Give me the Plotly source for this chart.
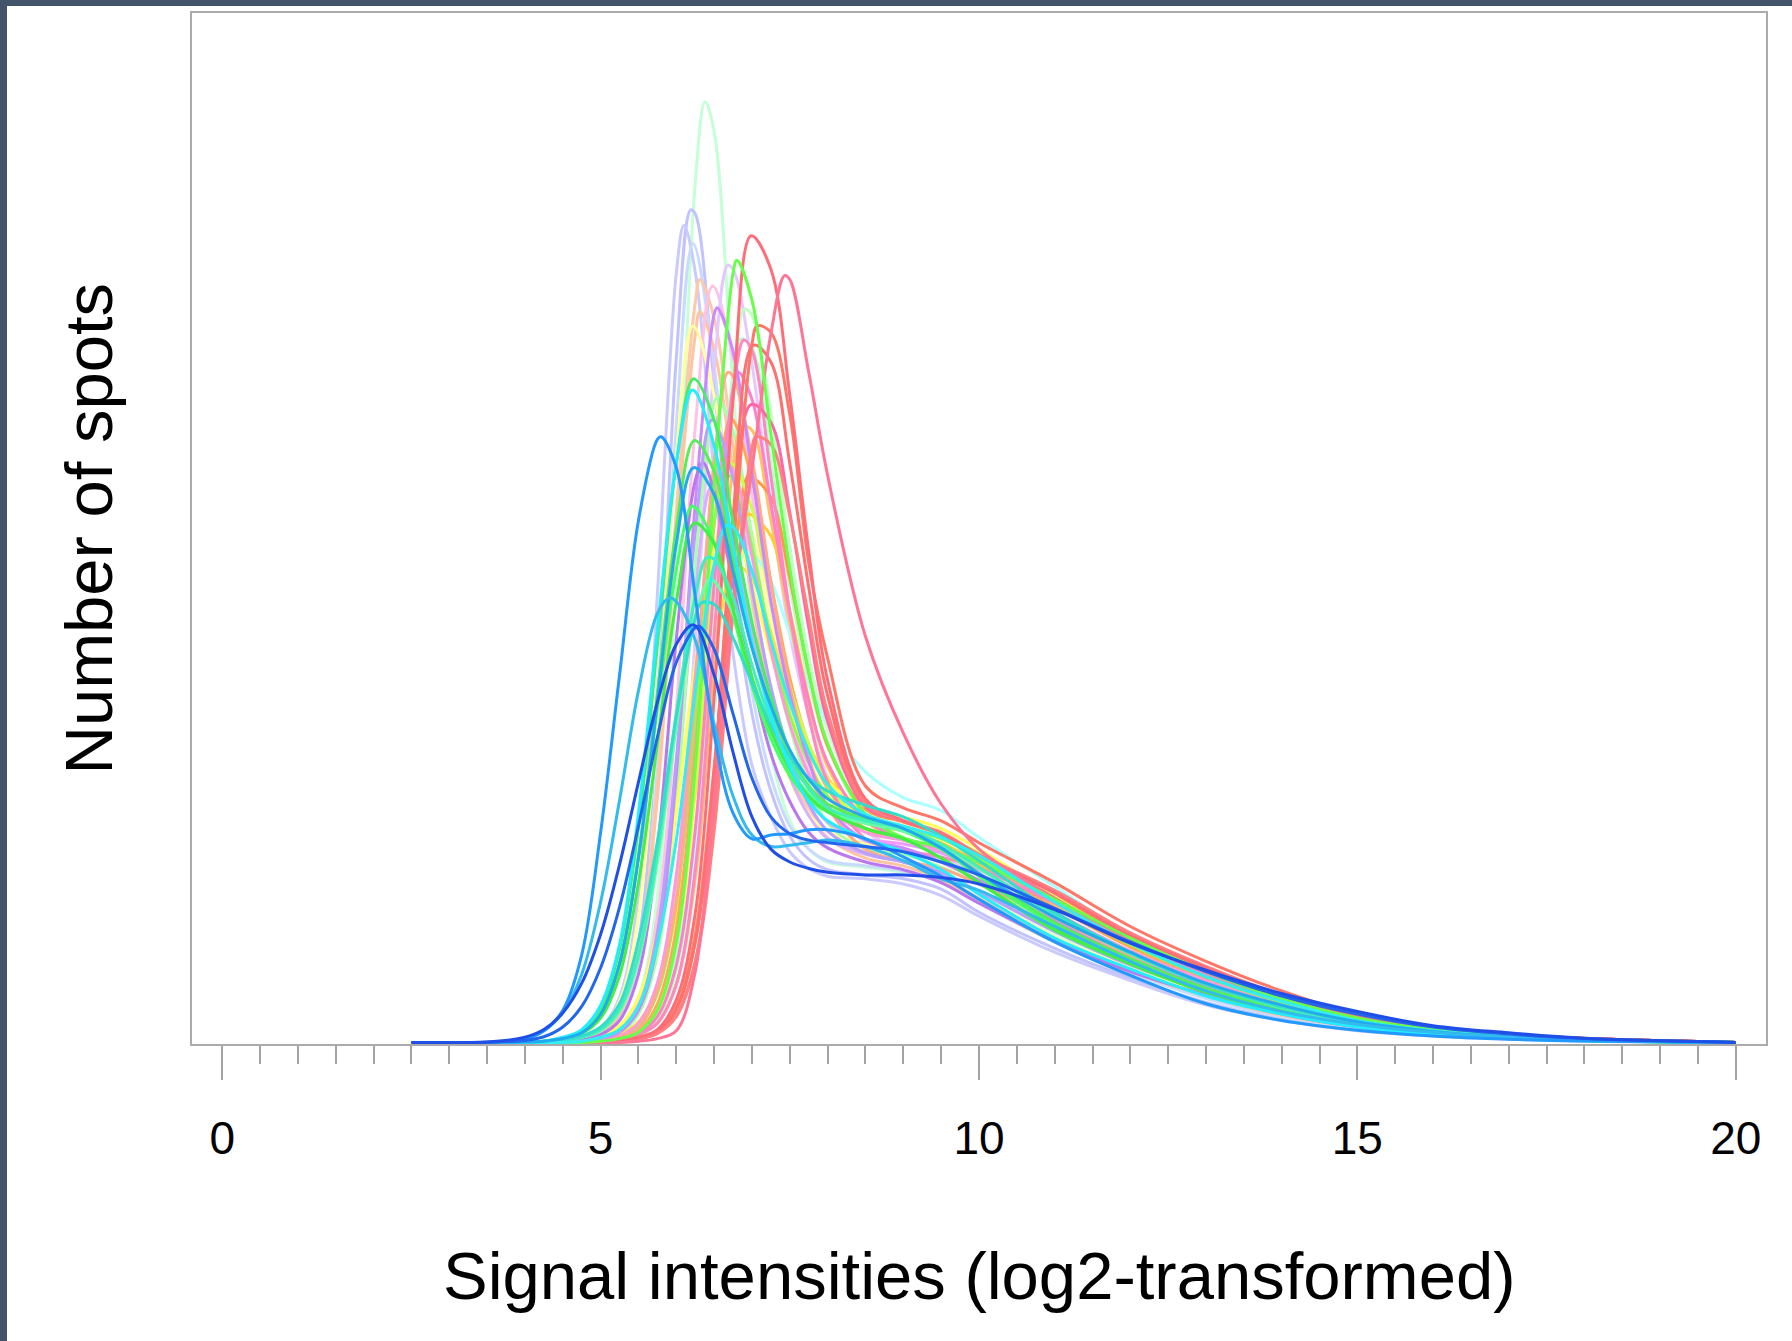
import plotly.graph_objects as go

# Shared sampling positions (log2 intensity) for every density curve
GRID_X = [2.5, 3.5, 4.0, 4.25, 4.5,
          4.75, 5.0, 5.25, 5.5, 5.75, 6.0, 6.25, 6.5, 6.75, 7.0, 7.25, 7.5, 7.75, 8.0,
          8.5, 9.0, 9.5, 10.0, 11.0, 12.0, 13.0, 14.0, 15.0, 16.0, 17.0, 18.0, 20.0]

# Density of spots per array, sampled on GRID_X
s01 = [0, 0, 0, 0, 0,
       .001, .004, .011, .035, .113, .362, .667, .707, .508, .331, .225, .172, .150, .140,
       .136, .132, .125, .112, .083, .057, .036, .021, .012, .006, .003, .0015, 0]
s02 = [0, 0, 0, 0, .001,
       .003, .007, .024, .078, .254, .531, .643, .511, .356, .255, .195, .160, .142, .134,
       .130, .127, .119, .101, .073, .050, .031, .018, .010, .005, .0026, .0012, 0]
s03 = [0, 0, 0, 0, .0015,
       .004, .011, .035, .114, .348, .597, .598, .441, .302, .215, .175, .148, .135, .129,
       .127, .123, .114, .098, .070, .048, .029, .017, .009, .005, .0025, .001, 0]
s04 = [0, 0, 0, 0, .001,
       .002, .006, .020, .063, .214, .478, .618, .525, .378, .272, .206, .168, .150, .141,
       .137, .133, .124, .108, .078, .054, .034, .020, .011, .006, .003, .0013, 0]
s05 = [0, 0, 0, 0, 0,
       0, .0003, .0015, .004, .010, .033, .100, .268, .499, .626, .600, .502, .381, .281,
       .189, .172, .162, .145, .116, .083, .058, .036, .020, .011, .006, .003, 0]
s06 = [0, 0, 0, 0, 0,
       0, 0, 0, .001, .003, .009, .055, .189, .340, .445, .550, .592, .520, .440,
       .315, .240, .185, .150, .112, .080, .055, .033, .019, .010, .005, .0025, 0]
s07 = [0, 0, 0, 0, 0,
       0, .001, .003, .008, .025, .078, .213, .433, .597, .576, .472, .368, .288, .232,
       .177, .159, .151, .140, .111, .081, .055, .034, .019, .010, .0052, .0026, 0]
s08 = [0, 0, 0, 0, 0,
       0, .001, .005, .013, .046, .127, .313, .523, .600, .526, .414, .317, .253, .206,
       .164, .150, .143, .130, .098, .069, .046, .029, .016, .0086, .0045, .0022, 0]
s09 = [0, 0, 0, 0, .001,
       .003, .008, .023, .070, .199, .412, .574, .562, .462, .358, .273, .220, .182, .164,
       .147, .140, .129, .112, .080, .056, .037, .022, .012, .0065, .0033, .0016, 0]
s10 = [0, 0, 0, 0, 0,
       .001, .004, .010, .033, .098, .259, .477, .587, .531, .425, .328, .259, .210, .181,
       .156, .150, .140, .125, .091, .063, .043, .026, .014, .0076, .0038, .0019, 0]
s11 = [0, 0, 0, 0, 0,
       .001, .003, .008, .025, .076, .208, .418, .565, .536, .442, .342, .270, .218, .183,
       .157, .151, .140, .126, .094, .065, .044, .027, .014, .008, .004, .002, 0]
s12 = [0, 0, 0, 0, .001,
       .003, .007, .022, .067, .190, .394, .549, .538, .443, .344, .264, .212, .177, .159,
       .143, .137, .126, .109, .078, .055, .036, .021, .012, .0063, .0032, .0015, 0]
s13 = [0, 0, 0, 0, 0,
       0, 0, .002, .006, .015, .046, .135, .320, .514, .564, .488, .385, .300, .243,
       .180, .158, .153, .142, .112, .080, .055, .034, .019, .010, .0055, .0028, 0]
s14 = [0, 0, 0, 0, 0,
       0, 0, .0005, .003, .007, .021, .063, .176, .380, .542, .551, .487, .372, .298,
       .199, .182, .172, .155, .124, .090, .063, .040, .022, .012, .0065, .0033, 0]
s15 = [0, 0, 0, 0, 0,
       0, 0, .002, .006, .018, .056, .158, .346, .519, .539, .449, .354, .280, .229,
       .176, .158, .153, .141, .110, .078, .054, .033, .018, .010, .0052, .0026, 0]
s16 = [0, 0, 0, 0, 0,
       0, 0, .002, .006, .015, .045, .134, .316, .502, .537, .439, .334, .253, .202,
       .158, .149, .144, .135, .108, .077, .053, .033, .018, .0097, .005, .0025, 0]
s17 = [0, 0, 0, 0, 0,
       0, 0, .001, .003, .008, .026, .078, .208, .408, .539, .528, .449, .353, .269,
       .186, .172, .162, .145, .117, .084, .058, .036, .020, .011, .006, .003, 0]
s18 = [0, 0, 0, 0, .001,
       .004, .010, .032, .098, .254, .456, .556, .502, .401, .312, .248, .204, .177, .164,
       .154, .148, .134, .116, .082, .058, .037, .022, .012, .0065, .0033, .0015, 0]
s19 = [0, 0, 0, 0, 0,
       0, .0005, .003, .007, .020, .060, .165, .355, .507, .499, .418, .333, .265, .217,
       .173, .158, .151, .140, .109, .077, .053, .033, .018, .010, .005, .0026, 0]
s20 = [0, 0, .0004, .001, .0035,
       .009, .026, .072, .167, .308, .449, .515, .483, .403, .326, .268, .226, .197, .181,
       .166, .158, .143, .124, .087, .061, .039, .023, .0125, .0068, .0033, .0015, 0]
s21 = [0, 0, .0004, .001, .004,
       .010, .029, .076, .178, .320, .450, .505, .463, .386, .310, .254, .214, .187, .172,
       .158, .148, .134, .115, .081, .057, .036, .022, .012, .0063, .003, .0013, 0]
s22 = [0, 0, 0, 0, 0,
       0, 0, .001, .003, .008, .026, .079, .211, .392, .495, .481, .411, .322, .249,
       .183, .172, .162, .145, .116, .083, .058, .036, .020, .011, .006, .003, 0]
s23 = [0, 0, 0, 0, 0,
       0, .001, .004, .009, .030, .088, .227, .401, .483, .437, .357, .283, .231, .197,
       .166, .157, .151, .138, .105, .074, .049, .031, .017, .009, .0047, .0023, 0]
s24 = [0, 0, 0, 0, 0,
       0, 0, .002, .006, .015, .045, .127, .289, .446, .475, .405, .326, .261, .217,
       .172, .157, .151, .142, .111, .079, .054, .034, .019, .010, .0054, .0027, 0]
s25 = [0, 0, 0, 0, 0,
       .001, .003, .009, .028, .086, .220, .396, .483, .438, .352, .276, .223, .185, .164,
       .147, .140, .132, .117, .086, .060, .040, .024, .0135, .0072, .0036, .0017, 0]
s26 = [0, 0, .003, .009, .025,
       .068, .163, .285, .405, .468, .446, .346, .239, .178, .158, .161, .162, .165, .165,
       .158, .144, .129, .111, .078, .052, .030, .017, .0095, .005, .0025, .0012, 0]
s27 = [0, 0, .0003, .001, .003,
       .008, .023, .061, .145, .272, .399, .467, .443, .377, .309, .260, .223, .199, .185,
       .173, .164, .151, .131, .093, .065, .042, .026, .014, .0072, .0035, .0016, 0]
s28 = [0, 0, .0003, .001, .003,
       .0075, .022, .061, .143, .265, .387, .446, .425, .366, .306, .261, .227, .204, .189,
       .175, .166, .151, .131, .097, .070, .046, .029, .016, .0085, .0042, .002, 0]
s29 = [0, 0, 0, 0, 0,
       0, .001, .003, .008, .025, .075, .196, .361, .449, .414, .342, .277, .232, .199,
       .172, .165, .159, .147, .112, .079, .052, .033, .018, .0097, .005, .0025, 0]
s30 = [0, 0, 0, 0, 0,
       0, .002, .004, .012, .038, .109, .254, .404, .437, .384, .312, .254, .217, .191,
       .170, .166, .158, .143, .108, .076, .051, .031, .017, .009, .0047, .0023, 0]
s31 = [0, 0, .0003, .001, .003,
       .008, .023, .061, .144, .259, .367, .415, .388, .332, .277, .236, .207, .189, .179,
       .172, .164, .150, .129, .091, .063, .040, .024, .013, .007, .0034, .0015, 0]
s32 = [0, 0, .0003, .001, .0025,
       .007, .019, .052, .124, .232, .342, .403, .387, .336, .283, .242, .212, .191, .179,
       .166, .158, .143, .124, .088, .061, .039, .024, .013, .0068, .0033, .0015, 0]
s33 = [0, 0, 0, 0, 0,
       .001, .004, .010, .028, .076, .157, .272, .371, .400, .366, .312, .264, .226, .200,
       .177, .168, .159, .145, .109, .077, .051, .032, .017, .009, .0047, .0023, 0]
s34 = [0, 0, 0, 0, .0005,
       .002, .005, .013, .035, .087, .180, .293, .383, .399, .355, .301, .255, .224, .202,
       .183, .175, .166, .150, .113, .079, .053, .033, .019, .0099, .005, .0026, 0]
s35 = [0, 0, 0, .0003, .001,
       .004, .010, .026, .068, .147, .255, .346, .375, .345, .293, .249, .218, .197, .182,
       .172, .166, .154, .136, .099, .069, .045, .027, .015, .008, .004, .002, 0]
s36 = [0, 0, .0001, .0004, .002,
       .005, .012, .030, .079, .156, .253, .329, .340, .314, .279, .246, .222, .205, .195,
       .184, .175, .160, .141, .101, .070, .045, .028, .016, .0085, .0042, .002, 0]
s37 = [0, .0002, .002, .009, .023,
       .053, .109, .188, .273, .333, .342, .312, .247, .191, .161, .152, .153, .155, .157,
       .152, .141, .127, .118, .090, .063, .040, .024, .014, .008, .004, .002, 0]
s38 = [0, .0004, .004, .010, .023,
       .046, .084, .138, .202, .264, .309, .324, .285, .225, .175, .150, .140, .135, .132,
       .130, .130, .128, .123, .103, .077, .056, .038, .024, .013, .0075, .0032, 0]
s39 = [0, .0001, .0015, .0044, .012,
       .028, .058, .105, .168, .237, .295, .322, .305, .255, .205, .175, .162, .157, .155,
       .152, .148, .140, .130, .104, .078, .055, .036, .022, .012, .0065, .003, 0]
s40 = [0, 0, 0, 0, 0,
       0, .001, .003, .007, .022, .065, .172, .327, .420, .396, .328, .266, .221, .191,
       .164, .157, .151, .139, .106, .075, .051, .031, .017, .0093, .0048, .0024, 0]
s41 = [0, 0, 0, 0, 0,
       0, .002, .005, .015, .046, .130, .284, .427, .444, .377, .304, .247, .208, .183,
       .163, .157, .149, .135, .101, .071, .048, .029, .016, .0088, .0045, .0022, 0]
s42 = [0, 0, 0, 0, 0,
       0, 0, .001, .003, .009, .028, .084, .214, .368, .439, .423, .360, .287, .230,
       .181, .171, .161, .144, .114, .082, .057, .035, .020, .011, .0058, .003, 0]
s43 = [0, 0, 0, 0, 0,
       .0003, .001, .004, .010, .027, .068, .148, .257, .350, .379, .358, .317, .277, .248,
       .210, .190, .180, .159, .121, .083, .056, .034, .019, .010, .005, .0025, 0]
s44 = [0, 0, 0, 0, 0,
       0, 0, .0005, .003, .007, .020, .061, .164, .333, .461, .464, .408, .330, .256,
       .185, .172, .163, .146, .118, .085, .059, .037, .021, .011, .006, .003, 0]
s45 = [0, 0, 0, 0, 0,
       .001, .003, .008, .025, .077, .195, .352, .429, .386, .316, .250, .206, .176, .158,
       .146, .140, .131, .117, .088, .062, .041, .025, .014, .0075, .0038, .0018, 0]
s46 = [0, 0, 0, 0, 0,
       .0006, .002, .006, .016, .042, .100, .193, .297, .370, .360, .318, .268, .231, .205,
       .177, .167, .159, .147, .113, .080, .054, .034, .019, .010, .0052, .0026, 0]
s47 = [0, 0, 0, 0, 0,
       .001, .003, .007, .022, .068, .186, .372, .497, .474, .393, .306, .245, .200, .170,
       .150, .146, .136, .123, .093, .065, .044, .027, .014, .008, .004, .002, 0]
s48 = [0, 0, 0, 0, 0,
       0, .001, .004, .011, .040, .110, .270, .451, .517, .453, .357, .276, .221, .183,
       .150, .141, .135, .123, .095, .067, .045, .028, .015, .008, .004, .002, 0]
s49 = [0, 0, 0, 0, .001,
       .002, .006, .017, .053, .151, .313, .436, .427, .355, .283, .224, .187, .163, .151,
       .140, .134, .124, .108, .079, .055, .037, .022, .012, .0065, .0033, .0016, 0]
s50 = [0, 0, 0, 0, 0,
       0, 0, .001, .003, .008, .026, .078, .199, .342, .409, .393, .335, .267, .214,
       .172, .164, .155, .139, .111, .080, .056, .035, .020, .011, .0058, .003, 0]
s51 = [0, 0, 0, .0003, .001,
       .004, .009, .024, .064, .140, .244, .331, .358, .333, .283, .241, .212, .193, .179,
       .170, .164, .153, .135, .099, .069, .045, .027, .015, .008, .004, .002, 0]
s52 = [0, 0, 0, 0, 0,
       0, .002, .004, .013, .039, .110, .240, .361, .376, .322, .262, .218, .189, .171,
       .158, .154, .147, .134, .101, .071, .048, .029, .016, .0088, .0045, .0022, 0]

SERIES = [s01, s02, s03, s04, s05, s06, s07, s08, s09, s10,
          s11, s12, s13, s14, s15, s16, s17, s18, s19, s20,
          s21, s22, s23, s24, s25, s26, s27, s28, s29, s30,
          s31, s32, s33, s34, s35, s36, s37, s38, s39, s40,
          s41, s42, s43, s44, s45, s46, s47, s48, s49, s50,
          s51, s52]

# Apex of each curve (position, height)
PEAK_X = [6.38, 6.19, 6.10, 6.22, 6.99, 7.43, 6.80, 6.68, 6.31, 6.48,
          6.54, 6.31, 6.90, 7.07, 6.85, 6.89, 7.02, 6.22, 6.82, 6.23,
          6.20, 6.99, 6.71, 6.87, 6.47, 5.80, 6.24, 6.23, 6.73, 6.64,
          6.20, 6.24, 6.66, 6.60, 6.40, 6.33, 5.91, 6.23, 6.30, 6.75,
          6.60, 6.95, 6.90, 7.05, 6.45, 6.78, 6.54, 6.68, 6.35, 6.95,
          6.45, 6.62]
PEAK_Y = [.730, .646, .634, .620, .626, .595, .607, .603, .592, .587,
          .570, .567, .569, .556, .546, .545, .541, .556, .520, .515,
          .506, .495, .484, .478, .483, .470, .467, .446, .449, .440,
          .416, .403, .401, .400, .376, .341, .345, .324, .323, .420,
          .450, .440, .380, .470, .430, .370, .500, .520, .450, .410,
          .360, .380]

COLORS = ["#c4ffd6", "#c2c2ff", "#cacaff", "#c8daff", "#ff6e78", "#ff7596", "#66ff4a", "#e4c8ff", "#ffc8a8", "#ffc2e4",
          "#cc88ff", "#ffc4a0", "#c2ffc2", "#ff7766", "#b2ffca", "#ff88c2", "#ff7070", "#ffffa0", "#ff80cc", "#44ee66",
          "#22eeff", "#ff66aa", "#ffaa55", "#ffc262", "#b8a0ff", "#2299ff", "#55ee55", "#22aaee", "#ccff44", "#88ff44",
          "#44ff66", "#44ee44", "#33eeee", "#ffff55", "#44eebb", "#33ddcc", "#33bbee", "#1f4fe6", "#2266ee", "#ffff99",
          "#ff99dd", "#ff9944", "#aaffff", "#ff8080", "#d8b0ff", "#ffdd44", "#a8ffa8", "#ffaa88", "#bb77ee", "#ffcc33",
          "#66ffaa", "#ee99ff"]

# Stacking order of the curves (first drawn at the back)
DRAW_ORDER = [1, 2, 3, 4, 9, 12, 10, 8, 13, 15, 18, 40, 45, 43, 47, 52,
              46, 24, 23, 42, 50, 34, 29, 30, 41, 48, 19, 16, 22, 11, 49, 25,
              14, 17, 44, 5, 6,
              7, 20, 27, 31, 51, 32, 35, 36, 33, 21,
              28, 37, 26, 39, 38]

X_TICKS = [0, 5, 10, 15, 20]
X_TITLE = "Signal intensities (log2-transformed)"
Y_TITLE = "Number of spots"

FONT = "Liberation Sans, Arial, Helvetica, sans-serif"


def curve_knots(values, px, py):
    assert len(values) == len(GRID_X)
    xs, ys = [], []
    for x, y in zip(GRID_X, values):
        if abs(x - px) < 0.04:
            continue
        xs.append(x)
        ys.append(y)
    pos = next(i for i, x in enumerate(xs) if x > px)
    xs.insert(pos, px)
    ys.insert(pos, py)
    return xs, ys


fig = go.Figure()
for k in DRAW_ORDER:
    i = k - 1
    xs, ys = curve_knots(SERIES[i], PEAK_X[i], PEAK_Y[i])
    fig.add_trace(go.Scatter(
        x=xs, y=ys, mode="lines",
        line=dict(color=COLORS[i], width=3.0, shape="spline", smoothing=1.0),
        hoverinfo="skip", showlegend=False,
    ))

W, H = 1792, 1341
L, R, T, B = 192, 26, 13, 297
PW, PH = W - L - R, H - T - B

fig.update_layout(
    width=W, height=H,
    margin=dict(l=L, r=R, t=T, b=B, pad=0),
    paper_bgcolor="white", plot_bgcolor="white",
    showlegend=False,
    font=dict(family=FONT, color="black"),
)

fig.update_xaxes(
    range=[-0.40, 20.40],
    tickmode="array", tickvals=X_TICKS, ticktext=[str(t) for t in X_TICKS],
    ticks="outside", ticklen=34, tickwidth=1.5, tickcolor="#a3a3a3",
    tickfont=dict(size=46, family=FONT, color="black"),
    ticklabelstandoff=19,
    showline=True, linecolor="#ababab", linewidth=2, mirror=True,
    showgrid=False, zeroline=False,
    minor=dict(dtick=0.5, tick0=0, ticks="outside", ticklen=18, tickwidth=1.5,
               tickcolor="#a3a3a3", showgrid=False),
)
fig.update_yaxes(
    range=[-0.0012, 0.7988],
    showticklabels=False, ticks="",
    showline=True, linecolor="#ababab", linewidth=2, mirror=True,
    showgrid=False, zeroline=False,
)

# Axis titles
fig.add_annotation(
    text=X_TITLE, xref="paper", yref="paper",
    x=0.5, y=(T + PH - 1275) / PH, xanchor="center", yanchor="middle",
    showarrow=False, font=dict(size=67, family=FONT, color="black"),
)
fig.add_annotation(
    text=Y_TITLE, xref="paper", yref="paper",
    x=(88 - L) / PW, y=0.5, xanchor="center", yanchor="middle", textangle=-90,
    showarrow=False, font=dict(size=67, family=FONT, color="black"),
)

# Slate frame along the top and left page edges
FRAME = "#435369"
fig.add_shape(type="rect", xref="paper", yref="paper",
              x0=(0 - L) / PW, x1=(W - L) / PW,
              y0=(T + PH - 6) / PH, y1=(T + PH) / PH,
              line=dict(width=0), fillcolor=FRAME, layer="above")
fig.add_shape(type="rect", xref="paper", yref="paper",
              x0=(0 - L) / PW, x1=(7 - L) / PW,
              y0=(T + PH - H) / PH, y1=(T + PH) / PH,
              line=dict(width=0), fillcolor=FRAME, layer="above")

fig.write_html("out.html", config={"displayModeBar": False})
